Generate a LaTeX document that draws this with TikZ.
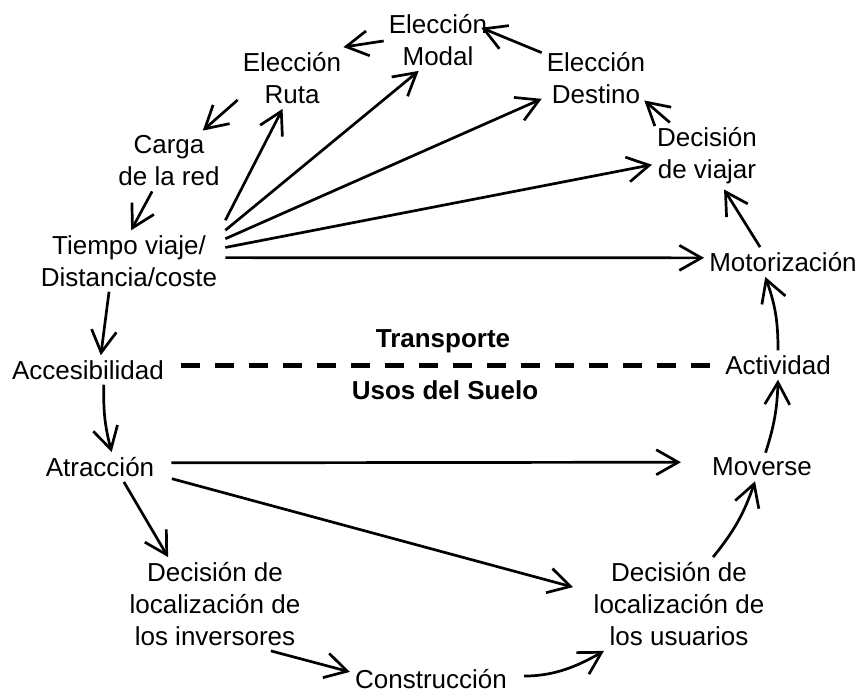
\documentclass[tikz,border=0pt]{standalone}
\usepackage{fontspec}
\setmainfont{Liberation Sans}
\usetikzlibrary{arrows.meta}

\begin{document}
\begin{tikzpicture}[x=1pt, y=-1pt,
		etiq/.style={align=center, inner sep=5pt, font=\fontsize{26}{32}\selectfont},
		titulo/.style={inner sep=2pt, font=\fontsize{26}{32}\selectfont\bfseries},
		flecha/.style={line width=2.7pt, -{Straight Barb[length=22pt, width=25pt]}}]
		\useasboundingbox (0,0) rectangle (856,695);

		\node[etiq] (modal) at (438,40) {Elección\\Modal};
		\node[etiq] (ruta) at (292,78) {Elección\\Ruta};
		\node[etiq] (destino) at (596,78) {Elección\\Destino};
		\node[etiq] (carga) at (169,161) {Carga\\de la red};
		\node[etiq, inner xsep=8pt] (tiempo) at (129,261) {Tiempo viaje/\\Distancia/coste};
		\node[etiq] (acces) at (88,370) {Accesibilidad};
		\node[etiq] (atraccion) at (100,467) {Atracción};
		\node[etiq] (inversores) at (215,604) {Decisión de\\localización de\\los inversores};
		\node[etiq, inner ysep=1pt] (construccion) at (431,679) {Construcción};
		\node[etiq] (usuarios) at (679,604) {Decisión de\\localización de\\los usuarios};
		\node[etiq] (moverse) at (762,467) {Moverse};
		\node[etiq] (actividad) at (778,365) {Actividad};
		\node[etiq] (motor) at (783,262) {Motorización};
		\node[etiq] (viajar) at (707,156) {Decisión\\de viajar};

		\node[titulo] (transp) at (443,341) {Transporte};
		\node[titulo] (usos) at (445,390) {Usos del Suelo};

		% frontera
		\draw[line width=5pt, dash pattern=on 19pt off 15pt, shorten <=12pt, shorten >=10pt] (acces.east |- actividad.west) -- (actividad.west);

		% ciclo
		\draw[flecha, shorten >=-12pt] (destino.155) -- (modal.8);
		\draw[flecha] (modal.181) -- (ruta.31);
		\draw[flecha] (ruta.202) -- (carga.42);
		\draw[flecha] (carga.241) -- (tiempo.86);
		\draw[flecha] (tiempo.237) -- (acces.49);
		\draw[flecha] (acces.317) to[bend right=8] (atraccion.52);
		\draw[flecha] (atraccion.328) -- (inversores.135);
		\draw[flecha] (inversores.320) -- (construccion.175);
		\draw[flecha, shorten <=12pt] (construccion.2) to[bend right=15] (usuarios.212);
		\draw[flecha] (usuarios.54) to[bend right=10] (moverse.244);
		\draw[flecha] (moverse.76) to[bend right=8] (actividad.270);
		\draw[flecha] (actividad.90) to[bend right=10] (motor.220);
		\draw[flecha] (motor.147) -- (viajar.297);
		\draw[flecha, shorten >=-8pt] (viajar.138) -- (destino.333);

		% desde el tiempo de viaje
		\draw[flecha] ([yshift=10pt]tiempo.north east) -- (ruta.253);
		\draw[flecha] (tiempo.north east) -- (modal.238);
		\draw[flecha] (tiempo.13) -- (destino.201);
		\draw[flecha] (tiempo.8) -- (viajar.189);
		\draw[flecha] (tiempo.2) -- (motor.177);

		% desde la atraccion
		\draw[flecha, shorten <=12pt, shorten >=26pt] (atraccion.4) -- (moverse.175);
		\draw[flecha, shorten <=13pt, shorten >=16pt] (atraccion.352) -- (usuarios.172);
	\end{tikzpicture}
\end{document}
